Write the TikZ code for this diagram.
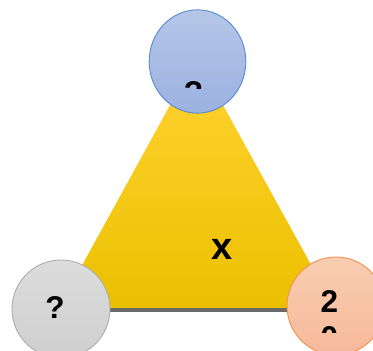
\documentclass[tikz,border=0pt]{standalone}
\usepackage{fontspec}
\setmainfont{Liberation Sans}
\usetikzlibrary{shapes.geometric}
\definecolor{yelTop}{HTML}{FFD332}
\definecolor{yelMid}{HTML}{FFCC00}
\definecolor{yelBot}{HTML}{EBC000}
\definecolor{baseGray}{HTML}{6A6A6A}
\definecolor{blueTop}{HTML}{B5C7E8}
\definecolor{blueBot}{HTML}{9BB1E0}
\definecolor{blueEdge}{HTML}{5A88D2}
\definecolor{grayTop}{HTML}{DCDCDC}
\definecolor{grayBot}{HTML}{CFCFCF}
\definecolor{grayEdge}{HTML}{ADADAD}
\definecolor{peachTop}{HTML}{F9CDB1}
\definecolor{peachBot}{HTML}{F6B99A}
\definecolor{peachEdge}{HTML}{F39148}
\tikzset{
  ball/.style={circle, inner sep=0pt, minimum size=98pt, line width=0.9pt},
  lbl/.style={inner sep=0pt, anchor=base, text=black, font=\bfseries\fontsize{31.5}{36}\selectfont},
}
\begin{document}
\begin{tikzpicture}[x=1pt,y=-1pt]
\useasboundingbox (0,0) rectangle (373,351);
\coordinate (apex) at (196.5,57);
\coordinate (bl) at (57.5,310);
\coordinate (br) at (336,310);
\shade[top color=yelTop, middle color=yelMid, bottom color=yelBot] (apex) -- (br) -- (bl) -- cycle;
\draw[baseGray, line width=4pt] (bl) -- (br);
\node[ellipse, inner sep=0pt, minimum width=96.7pt, minimum height=103.3pt, line width=0.9pt,
      draw=blueEdge, top color=blueTop, bottom color=blueBot] (T) at (197.5,61.5) {};
\node[ball, draw=grayEdge, top color=grayTop, bottom color=grayBot] (L) at (61,309) {};
\node[ball, draw=peachEdge, top color=peachTop, bottom color=peachBot] (R) at (336,306) {};
\begin{scope}
\clip (150,0) rectangle (250,88.5);
\node[lbl] (tq) at (193.5,103) {?};
\end{scope}
\node[lbl] (lq) at (55,318) {?};
\begin{scope}
\clip (280,250) rectangle (373,332);
\node[lbl] (r2) at (329.5,312) {2};
\node[lbl] (r0) at (329.5,348) {0};
\end{scope}
\node[lbl, font=\bfseries\fontsize{38}{44}\selectfont] (x) at (222.5,259) {x};
\end{tikzpicture}
\end{document}
